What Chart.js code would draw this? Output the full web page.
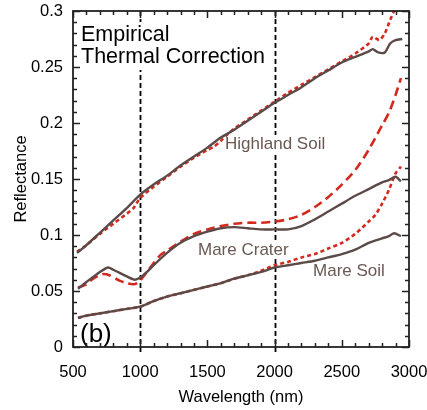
<!DOCTYPE html>
<html>
<head>
<meta charset="utf-8">
<script src="https://cdn.jsdelivr.net/npm/chart.js@4.4.1/dist/chart.umd.min.js"></script>
<style>
  html, body { margin: 0; padding: 0; background: #ffffff; }
  canvas { display: block; }
</style>
</head>
<body>
<canvas id="c" width="427" height="410"></canvas>
<script>
// ---- Data (wavelength in nm, reflectance) ----
const highlandWave  = [530, 600, 700, 800, 900, 1000, 1100, 1200, 1300, 1400, 1500, 1600, 1700, 1800, 1900, 2000, 2100, 2200, 2300, 2400, 2500, 2600, 2700, 2730, 2770, 2820, 2860, 2900, 2950];
const highlandSolid = [0.084, 0.091, 0.102, 0.113, 0.124, 0.136, 0.145, 0.153, 0.162, 0.170, 0.178, 0.187, 0.194, 0.202, 0.210, 0.218, 0.225, 0.232, 0.240, 0.247, 0.254, 0.259, 0.264, 0.266, 0.263, 0.263, 0.271, 0.274, 0.275];

const highlandRedWave = [530, 600, 700, 800, 900, 950, 1000, 1100, 1200, 1300, 1400, 1500, 1550, 1600, 1650, 1700, 1800, 1900, 2000, 2100, 2200, 2300, 2400, 2500, 2600, 2700, 2730, 2780, 2820, 2860, 2900];
const highlandRed     = [0.085, 0.091, 0.101, 0.110, 0.119, 0.124, 0.133, 0.143, 0.152, 0.161, 0.169, 0.176, 0.179, 0.184, 0.190, 0.195, 0.203, 0.211, 0.219, 0.227, 0.234, 0.241, 0.248, 0.255, 0.262, 0.271, 0.277, 0.274, 0.280, 0.292, 0.303];

const craterWave  = [537, 600, 700, 760, 800, 900, 960, 1000, 1050, 1100, 1200, 1300, 1400, 1500, 1600, 1700, 1800, 1900, 2000, 2100, 2200, 2300, 2400, 2500, 2600, 2700, 2800, 2850, 2900, 2940];
const craterSolid = [0.052, 0.058, 0.067, 0.071, 0.069, 0.063, 0.060, 0.062, 0.067, 0.073, 0.084, 0.093, 0.099, 0.103, 0.106, 0.107, 0.106, 0.105, 0.105, 0.105, 0.108, 0.114, 0.121, 0.128, 0.135, 0.141, 0.147, 0.149, 0.152, 0.148];

const craterRedWave = [537, 600, 650, 720, 770, 850, 900, 950, 990, 1050, 1100, 1150, 1200, 1300, 1400, 1500, 1600, 1700, 1800, 1900, 2000, 2100, 2200, 2300, 2400, 2500, 2600, 2700, 2800, 2850, 2900, 2940];
const craterRed     = [0.053, 0.056, 0.061, 0.065, 0.064, 0.059, 0.057, 0.056, 0.058, 0.067, 0.075, 0.082, 0.086, 0.094, 0.101, 0.105, 0.108, 0.110, 0.111, 0.111, 0.112, 0.114, 0.118, 0.125, 0.134, 0.145, 0.158, 0.176, 0.198, 0.209, 0.225, 0.240];

const soilWave  = [537, 600, 700, 800, 900, 1000, 1100, 1200, 1300, 1400, 1500, 1600, 1700, 1800, 1900, 2000, 2100, 2200, 2300, 2400, 2500, 2600, 2700, 2800, 2850, 2890, 2940];
const soilSolid = [0.026, 0.028, 0.030, 0.032, 0.034, 0.036, 0.041, 0.045, 0.048, 0.051, 0.054, 0.057, 0.061, 0.064, 0.067, 0.071, 0.073, 0.075, 0.077, 0.080, 0.083, 0.087, 0.093, 0.097, 0.099, 0.1015, 0.099];

const soilRedWave = [537, 600, 700, 800, 900, 1000, 1100, 1200, 1300, 1400, 1500, 1600, 1700, 1800, 1900, 2000, 2100, 2200, 2300, 2400, 2500, 2600, 2700, 2750, 2800, 2850, 2900, 2940];
const soilRed     = [0.026, 0.028, 0.030, 0.032, 0.034, 0.036, 0.041, 0.045, 0.048, 0.051, 0.054, 0.057, 0.061, 0.064, 0.068, 0.073, 0.076, 0.080, 0.083, 0.088, 0.093, 0.101, 0.112, 0.118, 0.128, 0.140, 0.155, 0.161];

const xMajorTicks = [500, 1000, 1500, 2000, 2500, 3000];
const yMajorTicks = [0, 0.05, 0.1, 0.15, 0.2, 0.25, 0.3];
const markerWaves = [1000, 2000];

const seriesLabels = [
  { text: 'Highland Soil', wave: 1631, refl: 0.1768 },
  { text: 'Mare Crater',   wave: 1430, refl: 0.0821 },
  { text: 'Mare Soil',     wave: 2286, refl: 0.0634 }
];

// ---- Styles ----
const FONT = "'Liberation Sans', Arial, Helvetica, sans-serif";
const BROWN = '#5b4a47';
const RED = '#d22a1f';
const LABEL_BROWN = '#6a5853';

function pts(xs, ys) { return xs.map((x, i) => ({ x: x, y: ys[i] })); }

const datasets = [
  { data: pts(highlandRedWave, highlandRed), borderColor: RED, borderWidth: 2.6, borderDash: [4, 3], order: 3 },
  { data: pts(craterRedWave, craterRed), borderColor: RED, borderWidth: 2.6, borderDash: [9, 5], order: 3 },
  { data: pts(soilRedWave, soilRed), borderColor: RED, borderWidth: 2.6, borderDash: [4, 3], order: 3 },
  { data: pts(highlandWave, highlandSolid), borderColor: BROWN, borderWidth: 2.4, order: 1 },
  { data: pts(craterWave, craterSolid), borderColor: BROWN, borderWidth: 2.4, order: 1 },
  { data: pts(soilWave, soilSolid), borderColor: BROWN, borderWidth: 2.4, order: 1 }
].map(d => Object.assign({ pointRadius: 0, tension: 0.25, fill: false, borderCapStyle: 'butt' }, d));

function isMajor(arr, v) { return arr.some(m => Math.abs(m - v) < 1e-6); }

const decorPlugin = {
  id: 'decor',
  beforeDatasetsDraw(chart) {
    const { ctx, chartArea: a, scales: { x, y } } = chart;
    ctx.save();
    // vertical dashed marker lines
    ctx.strokeStyle = '#000';
    ctx.lineWidth = 1.8;
    ctx.setLineDash([5, 3]);
    markerWaves.forEach(w => {
      const px = Math.round(x.getPixelForValue(w)) + 0.5;
      ctx.beginPath();
      ctx.moveTo(px, a.top);
      ctx.lineTo(px, a.bottom + 5);
      ctx.stroke();
    });
    ctx.setLineDash([]);
    // title text block with white background
    ctx.font = '21.5px ' + FONT;
    ctx.textBaseline = 'alphabetic';
    ctx.textAlign = 'left';
    const tx = a.left + 8;
    ctx.fillStyle = '#fff';
    ctx.fillRect(tx - 2, a.top + 11, 194, 48);
    ctx.fillStyle = '#000';
    ctx.fillText('Empirical', tx, a.top + 30);
    ctx.fillText('Thermal Correction', tx, a.top + 52);
    // series labels
    ctx.font = '17px ' + FONT;
    seriesLabels.forEach(l => {
      const px = x.getPixelForValue(l.wave);
      const py = y.getPixelForValue(l.refl);
      const w = ctx.measureText(l.text).width;
      ctx.fillStyle = '#fff';
      ctx.fillRect(px - 1, py - 14, w + 2, 18);
      ctx.fillStyle = LABEL_BROWN;
      ctx.fillText(l.text, px, py);
    });
    // panel letter
    ctx.font = '26px ' + FONT;
    ctx.fillStyle = '#000';
    ctx.fillText('(b)', a.left + 7, a.bottom - 5);
    ctx.restore();
  },
  afterDraw(chart) {
    const { ctx, chartArea: a, scales: { x, y } } = chart;
    ctx.save();
    ctx.strokeStyle = '#222';
    ctx.lineWidth = 1.5;
    ctx.beginPath();
    x.ticks.forEach(t => {
      const px = Math.round(x.getPixelForValue(t.value)) + 0.5;
      const len = isMajor(xMajorTicks, t.value) ? 7 : 4;
      ctx.moveTo(px, a.bottom); ctx.lineTo(px, a.bottom - len);
      ctx.moveTo(px, a.top); ctx.lineTo(px, a.top + len);
    });
    y.ticks.forEach(t => {
      const py = Math.round(y.getPixelForValue(t.value)) + 0.5;
      const len = isMajor(yMajorTicks, t.value) ? 7 : 4;
      ctx.moveTo(a.left, py); ctx.lineTo(a.left + len, py);
      ctx.moveTo(a.right, py); ctx.lineTo(a.right - len, py);
    });
    ctx.stroke();
    ctx.lineWidth = 1.8;
    ctx.strokeRect(a.left, a.top, a.right - a.left, a.bottom - a.top);
    ctx.restore();
  }
};

new Chart(document.getElementById('c'), {
  type: 'line',
  data: { datasets: datasets },
  options: {
    responsive: false,
    animation: false,
    events: [],
    layout: { padding: { left: 0, right: 18, top: 11, bottom: 0 } },
    plugins: { legend: { display: false }, tooltip: { enabled: false } },
    scales: {
      x: {
        type: 'linear', min: 500, max: 3000,
        grid: { display: false, drawTicks: false },
        border: { display: false },
        ticks: {
          stepSize: 100, autoSkip: false, maxRotation: 0, padding: 16,
          color: '#000', font: { family: FONT, size: 16.5 },
          callback: v => isMajor(xMajorTicks, v) ? String(v) : ''
        },
        title: { display: true, text: 'Wavelength (nm)', color: '#000', font: { family: FONT, size: 16.5 }, padding: { top: 0, bottom: 3 } },
        afterFit: s => { s.height = 63; s.paddingLeft = 0; s.paddingRight = 0; }
      },
      y: {
        min: 0, max: 0.3,
        grid: { display: false, drawTicks: false },
        border: { display: false },
        ticks: {
          stepSize: 0.01, autoSkip: false, padding: 10,
          color: '#000', font: { family: FONT, size: 16.5 },
          callback: v => isMajor(yMajorTicks, v) ? String(Math.round(v * 100) / 100) : ''
        },
        title: { display: true, text: 'Reflectance', color: '#000', font: { family: FONT, size: 16.5 }, padding: { top: 12, bottom: 0 } },
        afterFit: s => { s.width = 73; s.paddingTop = 0; s.paddingBottom = 0; }
      }
    }
  },
  plugins: [decorPlugin]
});
</script>
</body>
</html>
